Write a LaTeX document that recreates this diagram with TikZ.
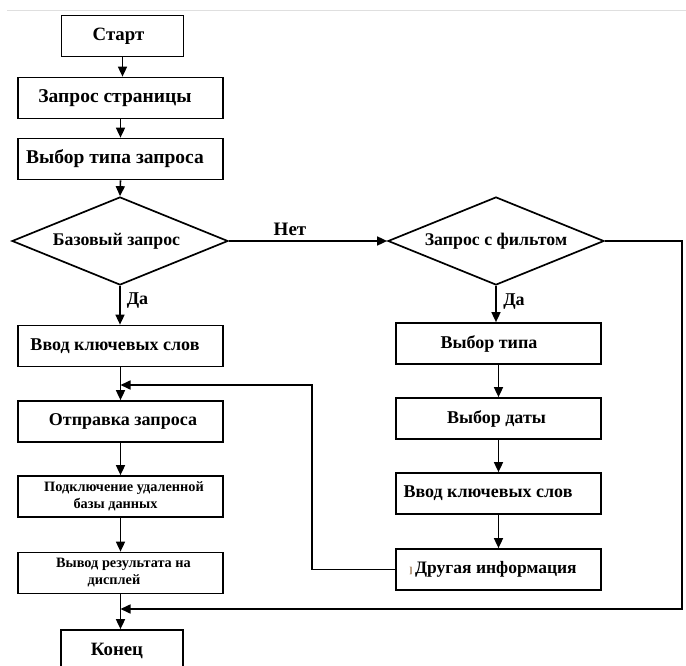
\documentclass[tikz,border=0pt]{standalone}
\usepackage{fontspec}
\setmainfont{Liberation Serif}
\usetikzlibrary{arrows.meta,shapes.geometric}

\newcommand{\fs}[1]{\fontsize{#1}{#1}\selectfont}

\tikzset{
  box/.style={draw, line width=1.7pt, minimum width=205pt, minimum height=41pt,
    inner sep=0pt, align=center, font=\bfseries\fs{18}},
  bigbox/.style={box, font=\bfseries\fs{19.5}},
  smallbox/.style={box, font=\bfseries\fontsize{14.3}{17}\selectfont},
  shortbox/.style={box, minimum width=122pt, font=\bfseries\fs{18.8}},
  decision/.style={draw, line width=1.7pt, diamond, shape aspect=2.45,
    minimum width=216pt, minimum height=88pt, inner sep=0pt,
    font=\bfseries\fs{17.8}},
  lbl/.style={font=\bfseries\fs{18}, inner sep=0pt},
  link/.style={line width=1.6pt},
  arr/.style={link, -{Triangle[length=10pt,width=9pt]}},
}

\begin{document}
\begin{tikzpicture}[x=1pt,y=-1pt]
  \useasboundingbox (0,0) rectangle (686,666);
  \clip (0,0) rectangle (686,666);

  % frame line at the top
  \draw[gray!25, line width=1pt] (7,11) -- (686,11);

  % left column
  \node[shortbox] (start) at (122.5,36) {Старт\hspace*{8pt}};
  \node[bigbox] (page) at (120.5,98) {Запрос страницы\hspace*{11pt}};
  \node[bigbox] (qtype) at (120.5,159) {Выбор типа запроса\hspace*{11pt}};
  \node[decision] (base) at (120,241) {Базовый запрос\hspace*{7pt}};
  \node[box] (kw1) at (120.5,346) {Ввод ключевых слов\hspace*{11pt}};
  \node[box] (send) at (120.5,421.5) {\hspace*{5pt}Отправка запроса};
  \node[smallbox] (conn) at (120.5,496.5)
    {\hspace*{7pt}Подключение удаленной\\базы данных\hspace*{10pt}};
  \node[smallbox] (show) at (120.5,573)
    {\hspace*{6pt}Вывод результата на\\дисплей\hspace*{13pt}};
  \node[shortbox] (finish) at (122,650.5) {Конец\hspace*{10pt}};

  % right column
  \node[decision] (filter) at (496,241) {Запрос с фильтом};
  \node[box] (seltype) at (498.5,343.5) {Выбор типа\hspace*{19pt}};
  \node[box] (seldate) at (498.5,418.5) {Выбор даты\hspace*{4pt}};
  \node[box] (kw2) at (498.5,493.5) {Ввод ключевых слов\hspace*{21pt}};
  \node[box, font=\bfseries\fs{17.5}] (other) at (498.5,569.5)
    {{\fs{9}\color{brown!70!black}]}\,Другая информация\hspace*{11pt}};

  % loop and return points
  \coordinate (loopturn) at (312,385);
  \coordinate (outturn) at (682,609);

  % main flow
  \draw[arr] (start.south) -- (start.south |- page.north);
  \draw[arr] (page.south) -- (qtype.north);
  \draw[arr] (qtype.south) -- (base.north);
  \draw[arr] (base.south) -- (base.south |- kw1.north);
  \draw[arr] (kw1.south) -- (send.north);
  \draw[arr] (send.south) -- (conn.north);
  \draw[arr] (conn.south) -- (show.north);
  \draw[arr] (show.south) -- (show.south |- finish.north);

  \draw[arr] (base.east) -- (filter.west);
  \draw[arr] (filter.south) -- (filter.south |- seltype.north);
  \draw[arr] (seltype.south) -- (seldate.north);
  \draw[arr] (seldate.south) -- (kw2.north);
  \draw[arr] (kw2.south) -- (other.north);

  % returns
  \draw[arr] (other.west) -| (loopturn) -- (kw1.south |- loopturn);
  \draw[arr] (filter.east) -| (outturn) -- (show.south |- outturn);

  % branch labels
  \node[lbl, font=\bfseries\fs{19}] (no) at (290,229) {Нет};
  \node[lbl] (yes1) at (137.5,301) {Да};
  \node[lbl] (yes2) at (514,302) {Да};
\end{tikzpicture}
\end{document}
